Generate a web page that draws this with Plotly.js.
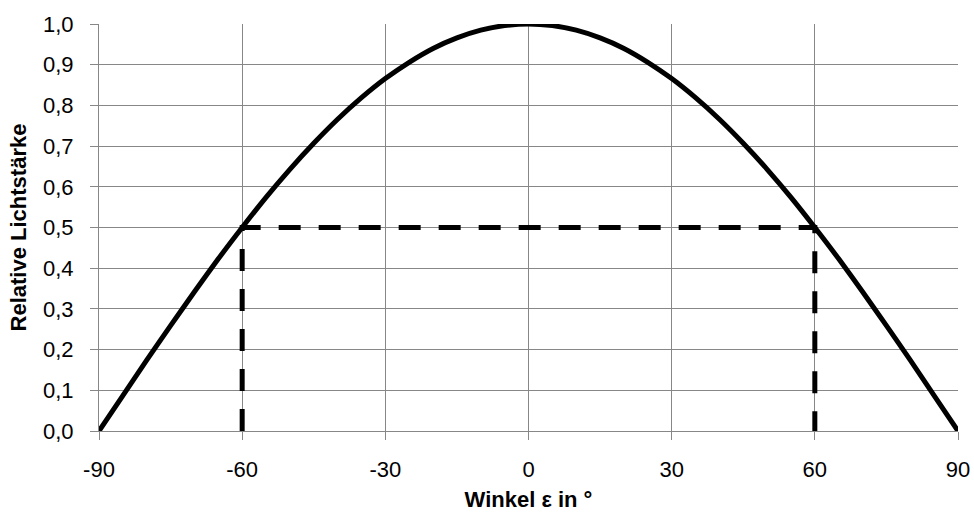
<!DOCTYPE html>
<html>
<head>
<meta charset="utf-8">
<script src="https://cdn.plot.ly/plotly-3.0.1.min.js"></script>
<style>
  html, body { margin: 0; padding: 0; background: #ffffff; }
  #chart { width: 974px; height: 513px; }
</style>
</head>
<body>
<div id="chart"></div>
<script>
// Relative luminous intensity over the emission angle
const angle = [-90, -85, -80, -75, -70, -65, -60, -55, -50, -45, -40, -35, -30, -25, -20, -15, -10, -5,
               0, 5, 10, 15, 20, 25, 30, 35, 40, 45, 50, 55, 60, 65, 70, 75, 80, 85, 90];
const intensity = [0.000, 0.087, 0.174, 0.259, 0.342, 0.423, 0.500, 0.574, 0.643, 0.707, 0.766, 0.819, 0.866, 0.906, 0.940, 0.966, 0.985, 0.996,
                   1.000, 0.996, 0.985, 0.966, 0.940, 0.906, 0.866, 0.819, 0.766, 0.707, 0.643, 0.574, 0.500, 0.423, 0.342, 0.259, 0.174, 0.087, 0.000];

// Half-intensity marker: up at -60°, across at 0.5, down at +60°
const halfX = [-60, -60, 60, 60];
const halfY = [0, 0.5, 0.5, 0];

const xTicks = [-90, -60, -30, 0, 30, 60, 90];
const xTickText = ['-90', '-60', '-30', '0', '30', '60', '90'];
const yTicks = [0, 0.1, 0.2, 0.3, 0.4, 0.5, 0.6, 0.7, 0.8, 0.9, 1.0];
const yTickText = ['0,0', '0,1', '0,2', '0,3', '0,4', '0,5', '0,6', '0,7', '0,8', '0,9', '1,0'];

const gridColor = '#878787';
const font = 'Arial, "Liberation Sans", sans-serif';
const textSize = 22;

const traces = [
  {
    x: halfX, y: halfY, type: 'scatter', mode: 'lines',
    line: { color: '#000000', width: 5, dash: '22px,18px' },
    hoverinfo: 'skip'
  },
  {
    x: angle, y: intensity, type: 'scatter', mode: 'lines',
    line: { color: '#000000', width: 5, shape: 'spline', smoothing: 0.6 },
    hoverinfo: 'skip'
  }
];

const layout = {
  width: 974, height: 513,
  margin: { l: 99, r: 16, t: 24, b: 82 },
  paper_bgcolor: '#ffffff', plot_bgcolor: '#ffffff',
  showlegend: false,
  font: { family: font, color: '#000000', size: textSize },
  xaxis: {
    range: [-90, 90], tickmode: 'array', tickvals: xTicks, ticktext: xTickText,
    showgrid: true, gridcolor: gridColor, gridwidth: 1,
    showline: true, linecolor: gridColor, linewidth: 1,
    ticks: 'outside', ticklen: 8, tickcolor: gridColor, ticklabelstandoff: 11,
    zeroline: false, fixedrange: true,
    tickfont: { family: font, size: textSize, color: '#000000' },
    title: { text: '<b>Winkel ε in °</b>', font: { family: font, size: textSize, color: '#000000' }, standoff: 10 }
  },
  yaxis: {
    range: [0, 1], tickmode: 'array', tickvals: yTicks, ticktext: yTickText,
    showgrid: true, gridcolor: gridColor, gridwidth: 1,
    showline: true, linecolor: gridColor, linewidth: 1,
    ticks: 'outside', ticklen: 8, tickcolor: gridColor, ticklabelstandoff: 12,
    zeroline: false, fixedrange: true,
    tickfont: { family: font, size: textSize, color: '#000000' },
    title: { text: '<b>Relative Lichtstärke</b>', font: { family: font, size: textSize, color: '#000000' }, standoff: 10 }
  }
};

Plotly.newPlot('chart', traces, layout, { staticPlot: true, displayModeBar: false });
</script>
</body>
</html>
